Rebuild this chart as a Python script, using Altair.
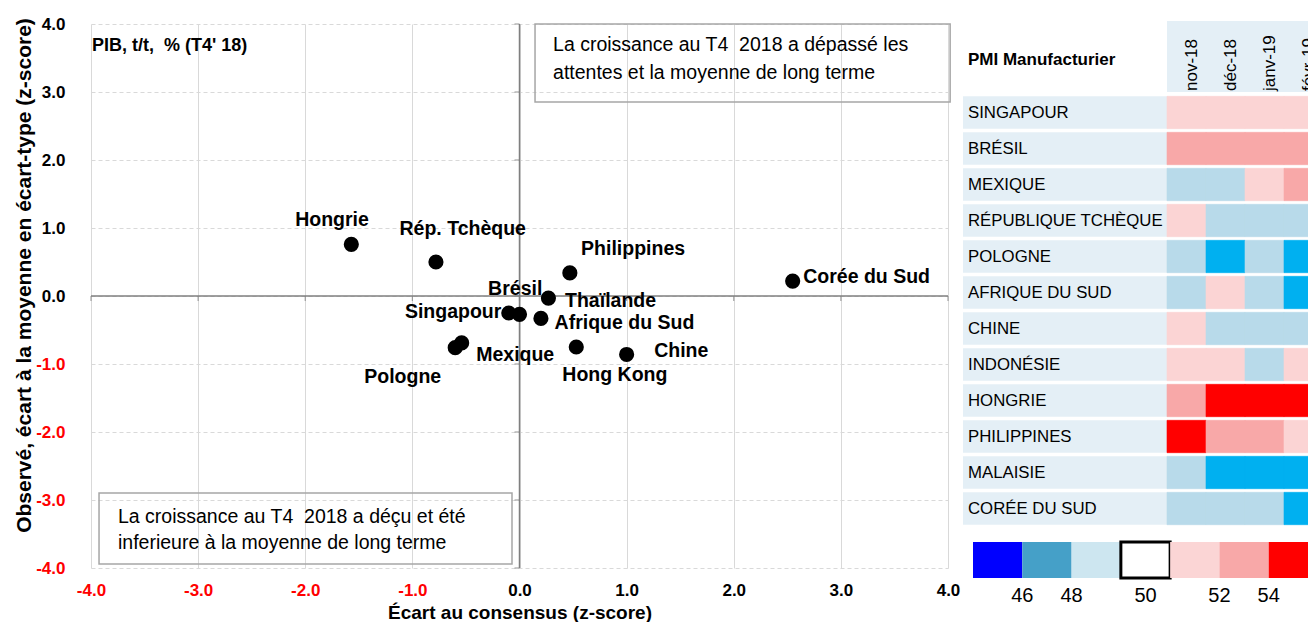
import altair as alt
import pandas as pd

FONT = "Liberation Sans"

# ---------------- Scatter: PIB T4 2018 ----------------
countries = ["Hongrie", "Rép. Tchèque", "Philippines", "Thaïlande", "Singapour", "Brésil",
             "Afrique du Sud", "Mexique", "Pologne", "Hong Kong", "Chine", "Corée du Sud"]
consensus_gap = [-1.57, -0.78, 0.47, 0.27, -0.10, 0.00, 0.20, -0.54, -0.60, 0.53, 1.00, 2.55]
observed_z = [0.76, 0.50, 0.34, -0.03, -0.25, -0.27, -0.33, -0.69, -0.76, -0.75, -0.86, 0.22]
label_x = [-1.75, -0.53, 1.06, 0.85, -0.62, -0.04, 0.98, -0.04, -1.09, 0.89, 1.51, 3.24]
label_y = [1.12, 0.99, 0.69, -0.075, -0.24, 0.10, -0.39, -0.87, -1.19, -1.16, -0.81, 0.28]
axis_values = [-4, -3, -2, -1, 0, 1, 2, 3, 4]

note_texts = ["La croissance au T4\u00a0 2018 a dépassé les",
              "attentes et la moyenne de long terme",
              "La croissance au T4\u00a0 2018 a déçu et été",
              "inferieure à la moyenne de long terme"]
note_x = [0.313, 0.313, -3.748, -3.748]
note_y = [3.684, 3.279, -3.245, -3.637]
box_x = [0.145, -3.925]
box_x2 = [4.02, -0.07]
box_y = [4.0, -2.897]
box_y2 = [2.853, -3.94]

# ---------------- Heatmap: PMI Manufacturier ----------------
pmi_countries = ["SINGAPOUR", "BRÉSIL", "MEXIQUE", "RÉPUBLIQUE TCHÈQUE", "POLOGNE",
                 "AFRIQUE DU SUD", "CHINE", "INDONÉSIE", "HONGRIE", "PHILIPPINES",
                 "MALAISIE", "CORÉE DU SUD"]
months = ["nov-18", "déc-18", "janv-19", "févr-19"]
pmi_nov = [51.6, 52.7, 49.7, 51.8, 49.5, 49.5, 50.2, 50.4, 53.4, 54.2, 49.3, 48.6]
pmi_dec = [51.1, 52.6, 49.7, 49.7, 47.6, 50.7, 49.7, 51.2, 54.9, 53.2, 47.7, 49.9]
pmi_jan = [50.7, 52.7, 50.9, 49.0, 48.2, 49.4, 48.3, 49.9, 54.3, 52.3, 47.9, 48.3]
pmi_feb = [50.4, 53.4, 52.6, 48.6, 47.6, 47.2, 49.9, 50.1, 55.9, 51.9, 47.6, 47.2]
pmi_bins = [46, 48, 50, 52, 54]
cell_colors = ["#0000FF", "#00B0F0", "#B8DAEA", "#FBD4D4", "#F8A8A8", "#FF0000"]

legend_items = ["<46", "46–48", "48–50", "50", "50–52", "52–54", ">54"]
legend_colors = ["#0000FF", "#45A0C8", "#CDE6F0", "#FFFFFF", "#FBD5D5", "#F8A8A8", "#FF0000"]
legend_edge_labels = ["46", "48", "52", "54"]
legend_edge_at = ["46–48", "48–50", "52–54", ">54"]
legend_mid_labels = ["50"]
legend_mid_at = ["50"]

# ---------------- data frames ----------------
scatter_df = pd.DataFrame({"pays": countries, "x": consensus_gap, "y": observed_z,
                           "lx": label_x, "ly": label_y})
ticks_df = pd.DataFrame({"v": axis_values, "z": [0] * len(axis_values)})
zero_df = pd.DataFrame({"v": [0]})
notes_df = pd.DataFrame({"t": note_texts, "x": note_x, "y": note_y})
boxes_df = pd.DataFrame({"x": box_x, "x2": box_x2, "y": box_y, "y2": box_y2})
pib_df = pd.DataFrame({"t": ["PIB, t/t,\u00a0 % (T4' 18)"]})

cells = []
for i, c in enumerate(pmi_countries):
    for m, vals in zip(months, [pmi_nov, pmi_dec, pmi_jan, pmi_feb]):
        cells.append({"pays": c, "mois": m, "pmi": vals[i]})
cells_df = pd.DataFrame(cells)
rows_df = pd.DataFrame({"pays": pmi_countries})
months_df = pd.DataFrame({"mois": months})
pmi_title_df = pd.DataFrame({"t": ["PMI Manufacturier"]})

legend_df = pd.DataFrame({"item": legend_items})
legend_edge_df = pd.DataFrame({"label": legend_edge_labels, "at": legend_edge_at})
legend_mid_df = pd.DataFrame({"label": legend_mid_labels, "at": legend_mid_at})

# ---------------- scatter layers ----------------
def xs():
    return alt.Scale(domain=[-4, 4], nice=False, zero=False)


def ys():
    return alt.Scale(domain=[-4, 4], nice=False, zero=False)


label_color = alt.ExprRef(expr="datum.value < 0 ? '#FF0000' : '#000000'")
label_expr = "(datum.value < 0 ? '-' : '') + format(abs(datum.value), '.1f')"

x_axis = alt.Axis(values=axis_values, labelExpr=label_expr, grid=True, gridColor="#D9D9D9",
                  domain=False, ticks=False, labelFontSize=17, labelFontWeight="bold",
                  labelColor=label_color, labelPadding=14, labelFlush=False,
                  labelOverlap=False, title="Écart au consensus (z-score)",
                  titleFontSize=19, titleFontWeight="bold", titleColor="#000000",
                  titleY=35, titleBaseline="top")
y_axis = alt.Axis(values=axis_values, labelExpr=label_expr, grid=True, gridColor="#D9D9D9",
                  gridDash=[4, 3], domain=False, ticks=False, labelFontSize=17,
                  labelFontWeight="bold", labelColor=label_color, labelPadding=26,
                  labelOverlap=False,
                  title="Observé, écart à la moyenne en écart-type (z-score)",
                  titleFontSize=21, titleFontWeight="bold", titleColor="#000000",
                  titleX=-57, titleY=251)

axes_layer = alt.Chart(ticks_df).mark_point(opacity=0).encode(
    x=alt.X("v:Q", scale=xs(), axis=x_axis),
    y=alt.Y("v:Q", scale=ys(), axis=y_axis),
)
boxes = alt.Chart(boxes_df).mark_rect(fillOpacity=0, stroke="#A6A6A6", strokeWidth=1.5).encode(
    x=alt.X("x:Q", scale=xs(), axis=None), x2="x2:Q",
    y=alt.Y("y:Q", scale=ys(), axis=None), y2="y2:Q",
)
vzero = alt.Chart(zero_df).mark_rule(color="#7F7F7F", strokeWidth=1.5).encode(
    x=alt.X("v:Q", scale=xs(), axis=None))
hzero = alt.Chart(zero_df).mark_rule(color="#7F7F7F", strokeWidth=1.5).encode(
    y=alt.Y("v:Q", scale=ys(), axis=None))
htick = alt.Chart(ticks_df).mark_tick(orient="vertical", size=5, thickness=1.2,
                                      color="#7F7F7F", yOffset=2.5).encode(
    x=alt.X("v:Q", scale=xs(), axis=None), y=alt.Y("z:Q", scale=ys(), axis=None))
vtick = alt.Chart(ticks_df).mark_tick(orient="horizontal", size=5, thickness=1.2,
                                      color="#7F7F7F", xOffset=-2.5).encode(
    x=alt.X("z:Q", scale=xs(), axis=None), y=alt.Y("v:Q", scale=ys(), axis=None))
notes = alt.Chart(notes_df).mark_text(align="left", baseline="middle", fontSize=19.5,
                                      color="#000000").encode(
    x=alt.X("x:Q", scale=xs(), axis=None), y=alt.Y("y:Q", scale=ys(), axis=None), text="t:N")
pib = alt.Chart(pib_df).mark_text(align="left", baseline="middle", fontSize=18,
                                  fontWeight="bold", color="#000000").encode(
    x=alt.value(1), y=alt.value(22), text="t:N")
points = alt.Chart(scatter_df).mark_circle(size=230, color="#000000", opacity=1).encode(
    x=alt.X("x:Q", scale=xs(), axis=None), y=alt.Y("y:Q", scale=ys(), axis=None))
labels = alt.Chart(scatter_df).mark_text(align="center", baseline="middle", fontSize=19.5,
                                         fontWeight="bold", color="#000000").encode(
    x=alt.X("lx:Q", scale=xs(), axis=None), y=alt.Y("ly:Q", scale=ys(), axis=None),
    text="pays:N")

# ---------------- heatmap layers ----------------
def ys_tab():
    return alt.Scale(domain=pmi_countries, range=[70.5, 502.5], paddingInner=0.1,
                     paddingOuter=0.05)


def xs_tab():
    return alt.Scale(domain=months, range=[1076, 1232], paddingInner=0, paddingOuter=0)


cell_scale = alt.Scale(type="threshold", domain=pmi_bins, range=cell_colors)

row_bg = alt.Chart(rows_df).mark_rect(color="#E4EFF6").encode(
    x=alt.value(872), x2=alt.value(1076), y=alt.Y("pays:N", scale=ys_tab(), axis=None))
row_text = alt.Chart(rows_df).mark_text(align="left", baseline="middle", fontSize=16.8,
                                        color="#000000").encode(
    x=alt.value(877), y=alt.Y("pays:N", scale=ys_tab(), axis=None), text="pays:N")
head_bg = alt.Chart(months_df).mark_rect(color="#E4EFF6").encode(
    x=alt.X("mois:N", scale=xs_tab(), axis=None), y=alt.value(-3), y2=alt.value(68))
head_text = alt.Chart(months_df).mark_text(angle=270, align="left", baseline="middle",
                                           fontSize=17, color="#000000", xOffset=5).encode(
    x=alt.X("mois:N", scale=xs_tab(), axis=None), y=alt.value(67), text="mois:N")
cells_layer = alt.Chart(cells_df).mark_rect(strokeWidth=0.6).encode(
    x=alt.X("mois:N", scale=xs_tab(), axis=None),
    y=alt.Y("pays:N", scale=ys_tab(), axis=None),
    color=alt.Color("pmi:Q", scale=cell_scale, legend=None),
    stroke=alt.Stroke("pmi:Q", scale=cell_scale, legend=None),
)
pmi_title = alt.Chart(pmi_title_df).mark_text(align="left", baseline="middle", fontSize=17,
                                              fontWeight="bold", color="#000000").encode(
    x=alt.value(877), y=alt.value(36), text="t:N")

# ---------------- colour key layers ----------------
leg_lo, leg_hi = 882, 1227
leg_step = (leg_hi - leg_lo) / len(legend_items)


def xs_leg():
    return alt.Scale(domain=legend_items, range=[leg_lo, leg_hi], paddingInner=0,
                     paddingOuter=0)


leg_rect = alt.Chart(legend_df).mark_rect().encode(
    x=alt.X("item:N", scale=xs_leg(), axis=None),
    y=alt.value(518), y2=alt.value(554),
    color=alt.Color("item:N", scale=alt.Scale(domain=legend_items, range=legend_colors),
                    legend=None),
    stroke=alt.value("#000000"),
    strokeWidth=alt.condition("datum.item == '50'", alt.value(3), alt.value(0)),
)
leg_edge = alt.Chart(legend_edge_df).mark_text(align="center", baseline="middle",
                                               fontSize=20, color="#000000",
                                               xOffset=-leg_step / 2).encode(
    x=alt.X("at:N", scale=xs_leg(), axis=None),
    y=alt.value(572), text="label:N")
leg_mid = alt.Chart(legend_mid_df).mark_text(align="center", baseline="middle",
                                             fontSize=20, color="#000000").encode(
    x=alt.X("at:N", scale=xs_leg(), axis=None),
    y=alt.value(572), text="label:N")

chart = alt.layer(
    axes_layer, boxes, vzero, hzero, htick, vtick, notes, pib, points, labels,
    head_bg, head_text, row_bg, row_text, cells_layer, pmi_title,
    leg_rect, leg_edge, leg_mid,
).resolve_scale(
    x="independent", y="independent", color="independent", stroke="independent"
).properties(
    width=857, height=544,
    padding={"left": 83, "top": 16, "right": 360, "bottom": 54},
    autosize=alt.AutoSizeParams(type="none"),
).configure(font=FONT).configure_view(stroke=None)

chart.save("out.html", embed_options={"renderer": "svg", "actions": False})
